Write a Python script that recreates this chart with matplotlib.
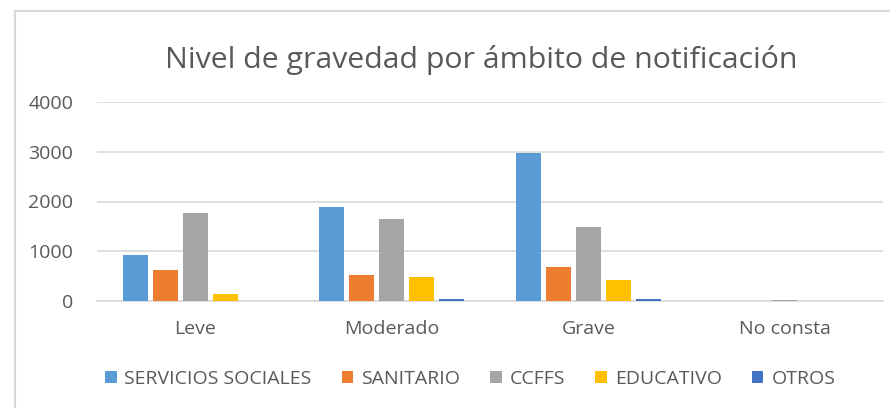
import matplotlib
matplotlib.use("Agg")
import matplotlib.pyplot as plot
from matplotlib.patches import Rectangle
import numpy as np

# values
categories = ["Leve", "Moderado", "Grave", "No consta"]
series_names = ["SERVICIOS SOCIALES", "SANITARIO", "CCFFS", "EDUCATIVO", "OTROS"]
servicios_sociales = [925, 1890, 2970, 0]
sanitario = [615, 525, 685, 0]
ccffs = [1765, 1655, 1485, 30]
educativo = [150, 475, 430, 0]
otros = [0, 35, 35, 0]
y_ticks = [0, 1000, 2000, 3000, 4000]

colors = ["#5B9BD5", "#ED7D31", "#A5A5A5", "#FFC000", "#4472C4"]
text_color = "#595959"
grid_color = "#D9D9D9"

plot.rcParams["font.family"] = ["Open Sans", "DejaVu Sans"]

figure = plot.figure(figsize=(8.9, 4.08), dpi=100)
axes = figure.add_axes([97 / 890, 1 - 301 / 408, 786 / 890, 199 / 408])

# outer chart frame (excel style)
figure.patches.append(
    Rectangle(
        (15 / 890, -0.05), 1.2, 1 - 11 / 408 + 0.05,
        transform=figure.transFigure, fill=False,
        edgecolor=grid_color, linewidth=1.5, zorder=0,
    )
)

x = np.arange(len(categories))
slot = 0.153
bar_width = 0.128
all_series = [servicios_sociales, sanitario, ccffs, educativo, otros]

for i, (name, values) in enumerate(zip(series_names, all_series)):
    offset = (i - 2) * slot
    axes.bar(
        x + offset, values, bar_width,
        label=name, color=colors[i], zorder=3,
    )

axes.set_xlim(-0.5, len(categories) - 0.5)
axes.set_ylim(0, 4000)
axes.set_yticks(y_ticks)
axes.set_yticklabels([str(t) for t in y_ticks])
axes.set_xticks(x)
axes.set_xticklabels(categories)

axes.grid(axis="y", color=grid_color, linewidth=1.2, zorder=0)
for side in ["top", "right", "left"]:
    axes.spines[side].set_visible(False)
axes.spines["bottom"].set_color(grid_color)
axes.spines["bottom"].set_linewidth(1.2)

axes.tick_params(axis="y", length=0, pad=17, labelsize=14, labelcolor=text_color)
axes.tick_params(axis="x", length=0, pad=14, labelsize=14, labelcolor=text_color)

figure.text(
    481 / 890, 1 - 68 / 408, "Nivel de gravedad por ámbito de notificación",
    ha="center", va="baseline", fontsize=21.8, color=text_color,
)

legend = figure.legend(
    loc="center", bbox_to_anchor=(470 / 890, 1 - 379 / 408),
    ncol=5, frameon=False, fontsize=14,
    handlelength=0.6, handleheight=0.6, handletextpad=0.4,
    columnspacing=1.55,
)
for text in legend.get_texts():
    text.set_color(text_color)

figure.savefig("out.png", dpi=100)
